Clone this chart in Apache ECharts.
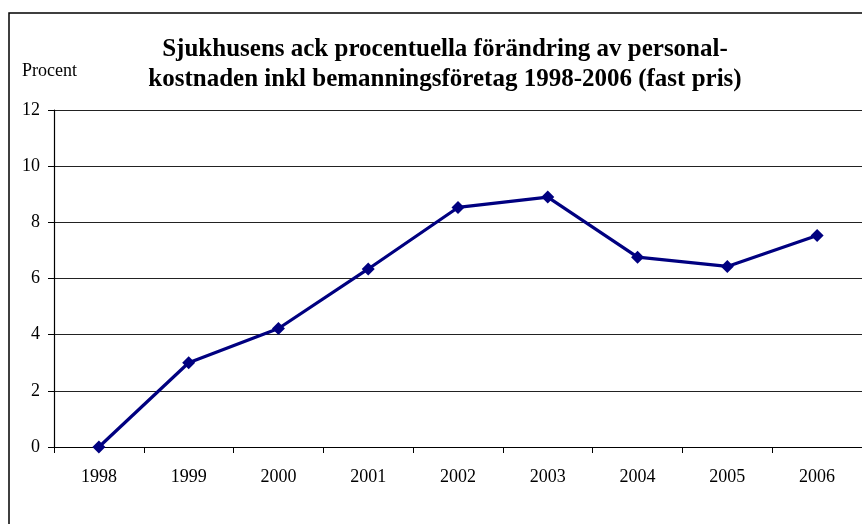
<!DOCTYPE html>
<html>
<head>
<meta charset="utf-8">
<script src="https://cdn.jsdelivr.net/npm/echarts@6/dist/echarts.min.js"></script>
<style>
  html, body { margin: 0; padding: 0; background: #fff; }
  #chart { width: 862px; height: 524px; }
</style>
</head>
<body>
<div id="chart"></div>
<script>
    var years = ['1998', '1999', '2000', '2001', '2002', '2003', '2004', '2005', '2006'];
    var procent = [0, 3.0, 4.22, 6.34, 8.53, 8.9, 6.76, 6.43, 7.53];
    var yTicks = [0, 2, 4, 6, 8, 10, 12];

    var serif = '"Liberation Serif", "Times New Roman", serif';

    var myChart = echarts.init(document.getElementById('chart'));

    var option = {
        backgroundColor: '#ffffff',
        animation: false,
        title: {
            text: 'Sjukhusens ack procentuella förändring av personal-\nkostnaden inkl bemanningsföretag 1998-2006 (fast pris)',
            left: 440,
            top: 30,
            textAlign: 'center',
            textStyle: {
                fontFamily: serif,
                fontWeight: 'bold',
                fontSize: 25,
                lineHeight: 30,
                color: '#000'
            }
        },
        graphic: [
            {
                type: 'rect',
                shape: { x: 9, y: 13, width: 900, height: 600 },
                style: { fill: 'none', stroke: '#000', lineWidth: 1.5 },
                z: 100
            },
            {
                type: 'text',
                left: 22,
                top: 62,
                style: { text: 'Procent', font: '18px ' + serif, fill: '#000' }
            }
        ],
        grid: {
            left: 54,
            right: -2,
            top: 110,
            bottom: 77
        },
        xAxis: {
            type: 'category',
            data: years,
            boundaryGap: true,
            axisLine: { lineStyle: { color: '#000', width: 1.2 } },
            axisTick: { show: true, length: 6, lineStyle: { color: '#000' } },
            axisLabel: {
                color: '#000',
                fontFamily: serif,
                fontSize: 18,
                margin: 21
            },
            splitLine: { show: false }
        },
        yAxis: {
            type: 'value',
            min: yTicks[0],
            max: yTicks[yTicks.length - 1],
            interval: 2,
            axisLine: { show: true, lineStyle: { color: '#000', width: 1.2 } },
            axisTick: { show: true, length: 6, lineStyle: { color: '#000' } },
            axisLabel: {
                color: '#000',
                fontFamily: serif,
                fontSize: 18,
                margin: 14
            },
            splitLine: { show: true, lineStyle: { color: '#222', width: 1 } }
        },
        series: [
            {
                name: 'Procent',
                type: 'line',
                data: procent,
                symbol: 'diamond',
                symbolSize: 13,
                lineStyle: { color: '#000080', width: 3.2 },
                itemStyle: { color: '#000080' }
            }
        ]
    };

    myChart.setOption(option);
</script>
</body>
</html>
